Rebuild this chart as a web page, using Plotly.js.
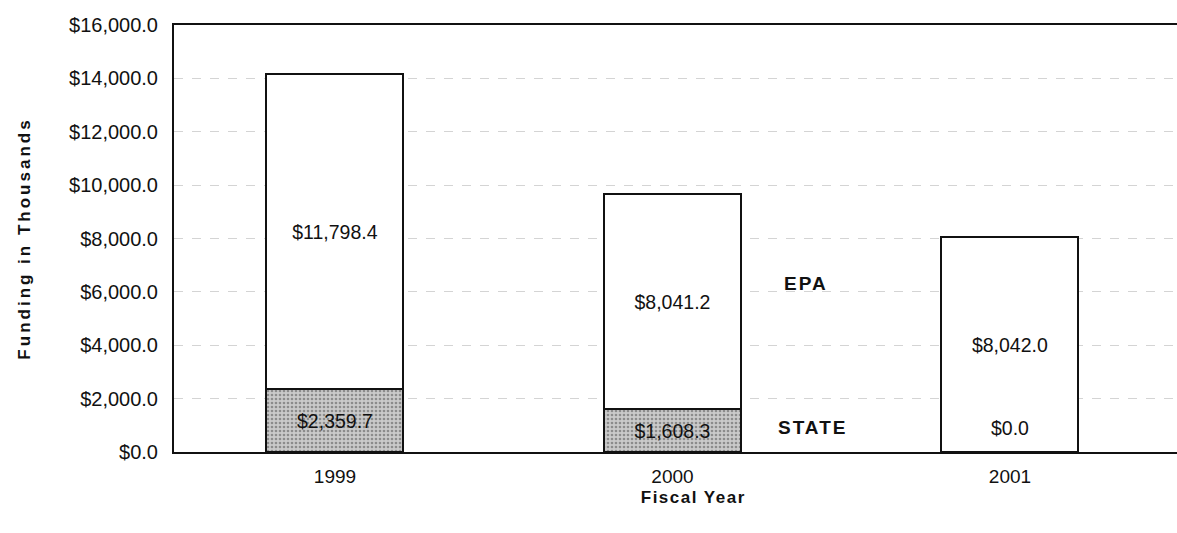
<!DOCTYPE html>
<html>
<head>
<meta charset="utf-8">
<script src="https://cdn.plot.ly/plotly-3.0.1.min.js"></script>
<style>
  html, body { margin: 0; padding: 0; background: #fff; }
  #chart { width: 1177px; height: 533px; }
  .ytitle { letter-spacing: 3px; }
  .annotation[data-index="0"] .annotation-text { letter-spacing: 1.5px; }
  .annotation[data-index="1"] .annotation-text,
  .annotation[data-index="2"] .annotation-text { letter-spacing: 2px; }
</style>
</head>
<body>
<div id="chart"></div>
<script>
// Data
const years = ['1999', '2000', '2001'];
const stateFunding = [2359.7, 1608.3, 0.0];
const epaFunding = [11798.4, 8041.2, 8042.0];
const yTickValues = [0, 2000, 4000, 6000, 8000, 10000, 12000, 14000, 16000];
const seriesNames = ['STATE', 'EPA'];

const fmt = v => '$' + v.toLocaleString('en-US', {minimumFractionDigits: 1, maximumFractionDigits: 1});

const FONT = 'Arial, "Liberation Sans", sans-serif';

const stateTrace = {
  type: 'bar',
  name: seriesNames[0],
  x: years,
  y: stateFunding,
  width: 0.406,
  text: stateFunding.map(fmt),
  textposition: 'inside',
  insidetextanchor: 'middle',
  textangle: 0,
  constraintext: 'none',
  textfont: {family: FONT, size: 19.5, color: '#111'},
  marker: {
    color: '#c4c4c4',
    line: {color: '#111', width: 2},
    pattern: {shape: '.', bgcolor: '#cacaca', fgcolor: '#8c8c8c', size: 4, solidity: 0.35}
  },
  hoverinfo: 'skip'
};

const epaTrace = {
  type: 'bar',
  name: seriesNames[1],
  x: years,
  y: epaFunding,
  width: 0.406,
  text: epaFunding.map(fmt),
  textposition: 'inside',
  insidetextanchor: 'middle',
  textangle: 0,
  constraintext: 'none',
  textfont: {family: FONT, size: 19.5, color: '#111'},
  marker: {color: '#ffffff', line: {color: '#111', width: 2}},
  hoverinfo: 'skip'
};

// labels for zero-height segments (not drawn inside a bar); x given as category index
const zeroLabels = [];
stateFunding.forEach((v, i) => {
  if (v === 0) {
    zeroLabels.push({
      x: i, y: v, xref: 'x', yref: 'y', text: fmt(v), showarrow: false,
      yshift: 24, font: {family: FONT, size: 19.5, color: '#111'}
    });
  }
});

const layout = {
  width: 1177,
  height: 533,
  margin: {l: 174, r: 0, t: 25, b: 81},
  paper_bgcolor: '#ffffff',
  plot_bgcolor: '#ffffff',
  barmode: 'stack',
  showlegend: false,
  font: {family: FONT, color: '#111'},
  xaxis: {
    type: 'category',
    range: [-0.477, 2.495],
    showline: true, linecolor: '#111', linewidth: 2,
    mirror: true,
    showgrid: false,
    ticks: '',
    ticklabelstandoff: 6,
    tickfont: {family: FONT, size: 19, color: '#111'},
    fixedrange: true
  },
  yaxis: {
    range: [0, 16000],
    tickvals: yTickValues,
    tickformat: '$,.1f',
    showline: true, linecolor: '#111', linewidth: 2,
    showgrid: true, gridcolor: '#d4d4d4', griddash: 'dash', gridwidth: 1,
    zeroline: false,
    ticks: '',
    ticklabelstandoff: 10,
    tickfont: {family: FONT, size: 20, color: '#111'},
    title: {text: '<b>Funding in Thousands</b>', font: {family: FONT, size: 17, color: '#111'}, standoff: 34},
    fixedrange: true
  },
  annotations: [
    // x-axis title (positioned like the original, slightly right of plot centre)
    {x: 0.518, y: 0, xref: 'paper', yref: 'paper', xanchor: 'center', yanchor: 'middle', yshift: -45,
     text: '<b>Fiscal Year</b>', showarrow: false, font: {family: FONT, size: 17, color: '#111'}},
    {x: 1.332, y: 6330, xref: 'x', yref: 'y', xanchor: 'left', yanchor: 'middle',
     text: '<b>' + seriesNames[1] + '</b>', showarrow: false, font: {family: FONT, size: 19, color: '#111'}},
    {x: 1.322, y: 900, xref: 'x', yref: 'y', xanchor: 'left', yanchor: 'middle',
     text: '<b>' + seriesNames[0] + '</b>', showarrow: false, font: {family: FONT, size: 19, color: '#111'}}
  ].concat(zeroLabels)
};

Plotly.newPlot('chart', [stateTrace, epaTrace], layout, {displayModeBar: false, staticPlot: true});
</script>
</body>
</html>
